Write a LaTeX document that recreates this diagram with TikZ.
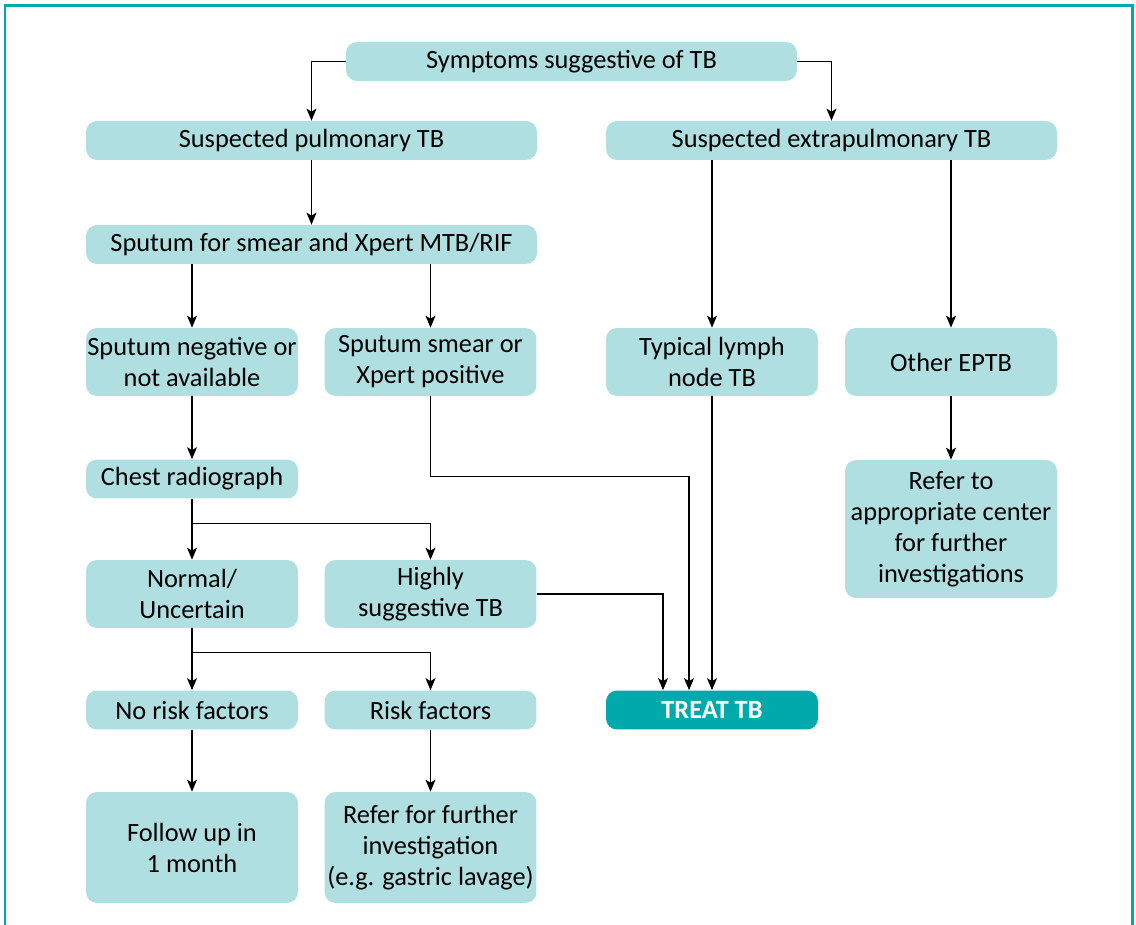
\documentclass[tikz,border=0pt]{standalone}
\usepackage{fontspec}
\setmainfont{Carlito}
\usetikzlibrary{arrows.meta}
\definecolor{tealdark}{RGB}{0,169,171}
\definecolor{teallight}{RGB}{176,223,225}
\tikzset{
	box/.style={fill=teallight, rounded corners=0.22cm, align=center, inner sep=0pt,
		font=\fontsize{15}{17.6}\selectfont},
	wide/.style={minimum width=9.02cm, minimum height=0.78cm},
	small/.style={minimum width=4.24cm, minimum height=0.78cm},
	tall/.style={minimum width=4.24cm, minimum height=1.36cm},
	arr/.style={-{Stealth[length=2.4mm, width=2mm, inset=0.6mm]}, line width=0.7pt}
}

\begin{document}
\begin{tikzpicture}[x=0.02cm, y=-0.02cm]
		\useasboundingbox (0,0) rectangle (1136,925);
		\draw[tealdark, line width=1.7pt] (5,925)--(5,6)--(1132,6)--(1132,925);
		
		\node[box, wide] (symp) at (571.5,61.5) {Symptoms suggestive of TB};
		\node[box, wide] (pulm) at (311.5,140.5) {Suspected pulmonary TB};
		\node[box, wide] (extra) at (831.5,140.5) {Suspected extrapulmonary TB};
		\node[box, wide] (sput) at (311.5,244.5) {Sputum for smear and Xpert MTB/RIF};
		
		\node[box, tall] (neg) at (192,362) {Sputum negative or\\not available};
		\node[box, tall] (pos) at (430.5,362) {Sputum smear or\\Xpert positive};
		\node[box, tall] (lymph) at (712,362) {Typical lymph\\node TB};
		\node[box, tall] (other) at (951,362) {Other EPTB};
		
		\node[box, small] (chest) at (192,479) {Chest radiograph};
		\node[box, minimum width=4.24cm, minimum height=2.76cm] (refc) at (951,529) {Refer to\\appropriate center\\for further\\investigations};
		
		\node[box, tall] (normal) at (192,594) {Normal/\\Uncertain};
		\node[box, tall] (high) at (430.5,594) {Highly\\suggestive TB};
		
		\node[box, small] (norisk) at (192,710) {No risk factors};
		\node[box, small] (risk) at (430.5,710) {Risk factors};
		\node[box, small, fill=tealdark, text=white, font=\fontsize{15}{17.6}\selectfont\bfseries] (treat) at (712,710) {TREAT TB};
		
		\node[box, minimum width=4.24cm, minimum height=2.22cm] (follow) at (192,847.5) {Follow up in\\1 month};
		\node[box, minimum width=4.24cm, minimum height=2.22cm] (refinv) at (430.5,847.5) {Refer for further\\investigation\\(e.g. gastric lavage)};
		
		\draw[arr] (symp.west) -| (pulm.north);
		\draw[arr] (symp.east) -| (extra.north);
		\draw[arr] (pulm) -- (sput);
		\draw[arr] (neg.north |- sput.south) -- (neg.north);
		\draw[arr] (pos.north |- sput.south) -- (pos.north);
		\draw[arr] (lymph.north |- extra.south) -- (lymph.north);
		\draw[arr] (other.north |- extra.south) -- (other.north);
		
		\draw[arr] (neg) -- (chest);
		\draw[arr] (other) -- (refc);
		\draw[arr] (pos.south) -- ++(0,80) -| ([xshift=-0.46cm]treat.north);
		\draw[arr] (lymph) -- (treat);
		\draw[arr] (high.east) -| ([xshift=-0.98cm]treat.north);
		
		\draw[arr] (chest) -- (normal);
		\draw[arr] (chest.south) -- ++(0,25) -| (high.north);
		\draw[arr] (normal) -- (norisk);
		\draw[arr] (normal.south) -- ++(0,24) -| (risk.north);
		\draw[arr] (norisk) -- (follow);
		\draw[arr] (risk) -- (refinv);
	\end{tikzpicture}
\end{document}
